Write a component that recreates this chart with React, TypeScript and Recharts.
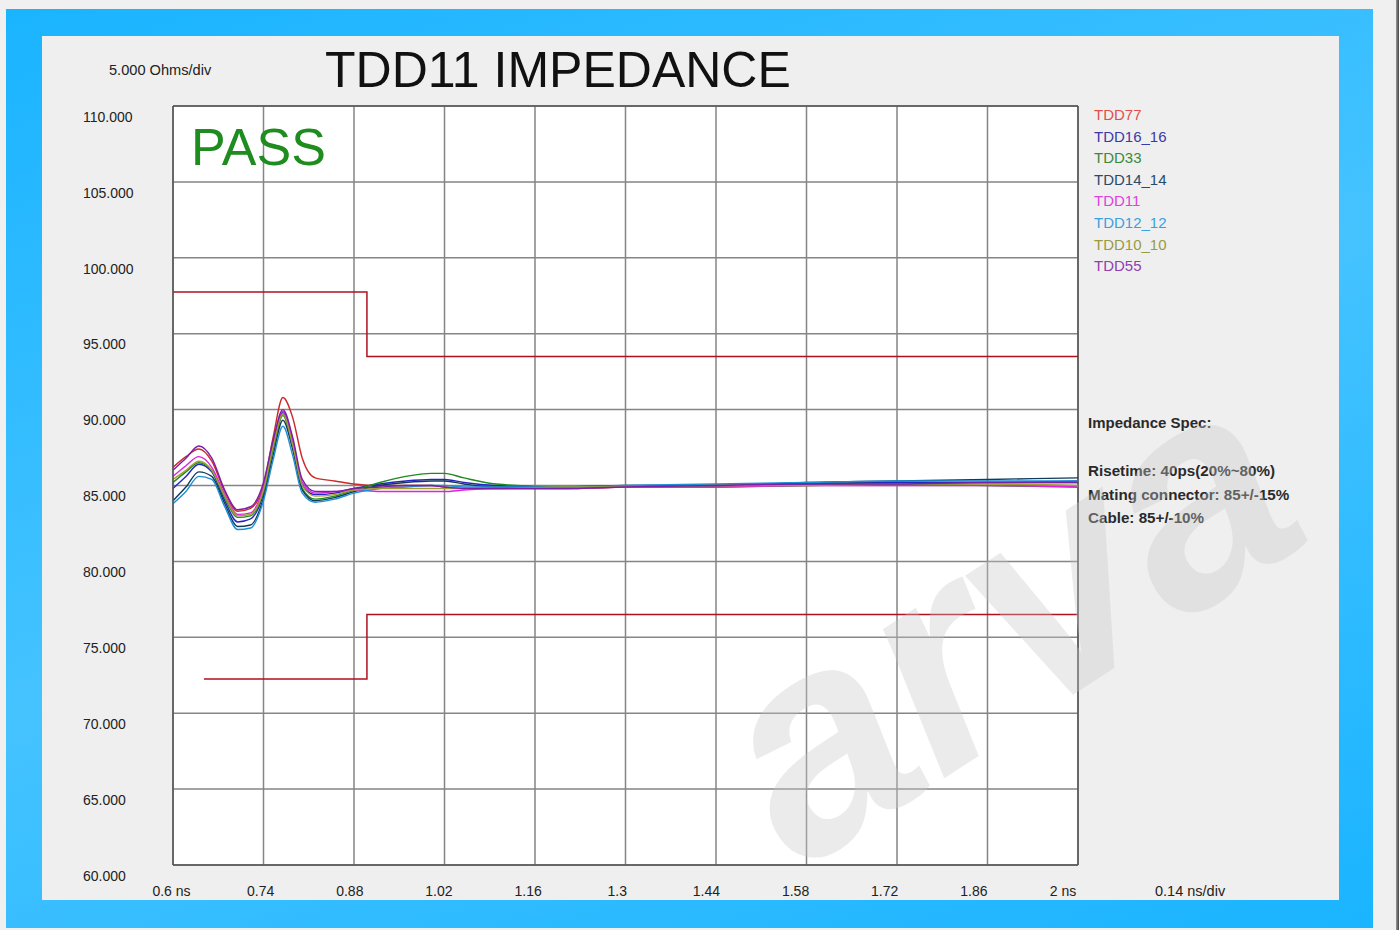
import { LineChart, Line, XAxis, YAxis, CartesianGrid, ReferenceLine } from "recharts";

// time axis (ns) shared by all traces
const times = [0.6, 0.62, 0.64, 0.66, 0.68, 0.7, 0.72, 0.74, 0.755, 0.77, 0.785, 0.8, 0.82, 0.85, 0.88, 0.92, 0.96, 1.0, 1.02, 1.05, 1.1, 1.2, 1.3, 1.44, 1.58, 1.72, 1.86, 2.0];

// impedance traces (ohms)
const tdd77 = [86.2, 86.9, 87.4, 86.6, 84.6, 83.3, 83.5, 85.0, 88.2, 90.8, 89.5, 86.8, 85.5, 85.3, 85.1, 85.0, 85.0, 85.0, 84.9, 84.8, 84.8, 84.8, 84.9, 85.0, 85.1, 85.2, 85.2, 85.2];
const tdd16_16 = [84.8, 85.6, 86.4, 85.9, 84.0, 82.6, 82.8, 84.5, 87.6, 89.8, 87.8, 85.0, 84.4, 84.5, 84.8, 85.1, 85.3, 85.4, 85.4, 85.2, 85.0, 84.9, 84.9, 85.0, 85.1, 85.2, 85.2, 85.3];
const tdd33 = [85.2, 85.9, 86.5, 86.0, 84.2, 82.9, 83.0, 84.6, 87.4, 89.6, 87.6, 84.8, 84.1, 84.3, 84.7, 85.2, 85.6, 85.8, 85.8, 85.5, 85.1, 84.9, 84.9, 84.9, 85.0, 85.1, 85.0, 84.9];
const tdd14_14 = [84.0, 84.9, 85.9, 85.6, 83.8, 82.3, 82.4, 84.2, 87.0, 89.3, 87.4, 84.7, 84.0, 84.2, 84.6, 85.0, 85.2, 85.3, 85.3, 85.1, 84.9, 84.9, 85.0, 85.0, 85.2, 85.3, 85.4, 85.5];
const tdd11 = [85.6, 86.3, 86.9, 86.2, 84.4, 83.1, 83.2, 84.9, 87.8, 89.9, 88.0, 85.2, 84.5, 84.6, 84.7, 84.6, 84.6, 84.6, 84.6, 84.7, 84.8, 84.8, 84.9, 84.9, 85.0, 85.0, 85.0, 84.9];
const tdd12_12 = [83.8, 84.6, 85.6, 85.4, 83.6, 82.1, 82.2, 84.0, 86.7, 88.9, 87.0, 84.5, 83.9, 84.1, 84.5, 84.8, 84.9, 85.0, 85.0, 84.9, 84.9, 84.9, 85.0, 85.1, 85.2, 85.3, 85.3, 85.3];
const tdd10_10 = [85.4, 86.0, 86.6, 86.0, 84.3, 83.0, 83.1, 84.7, 87.6, 89.7, 87.7, 85.0, 84.3, 84.4, 84.7, 84.8, 84.8, 84.8, 84.8, 84.8, 84.8, 84.9, 84.9, 85.0, 85.0, 85.1, 85.1, 85.0];
const tdd55 = [86.0, 86.8, 87.6, 86.8, 84.7, 83.4, 83.6, 85.2, 88.0, 90.0, 88.2, 85.4, 84.6, 84.6, 84.8, 84.9, 85.0, 85.0, 84.9, 84.8, 84.8, 84.8, 84.9, 85.0, 85.1, 85.1, 85.2, 85.2];

const seriesNames = ["TDD77", "TDD16_16", "TDD33", "TDD14_14", "TDD11", "TDD12_12", "TDD10_10", "TDD55"];
const seriesValues = [tdd77, tdd16_16, tdd33, tdd14_14, tdd11, tdd12_12, tdd10_10, tdd55];
const lineColors = ["#cc2a2a", "#2424c0", "#1f8a1f", "#123a5c", "#e020e0", "#1c8fd6", "#a0a030", "#7a1fa8"];
const legendColors = ["#e0504a", "#3a3aa8", "#3a8a3a", "#2a4a6a", "#e040e0", "#3aa0e0", "#9a9a40", "#9040b0"];

// spec limits
const upperLimitTimes = [0.6, 0.9, 0.9, 2.0];
const upperLimitValues = [97.75, 97.75, 93.5, 93.5];
const lowerLimitTimes = [0.648, 0.9, 0.9, 2.0];
const lowerLimitValues = [72.25, 72.25, 76.5, 76.5];

const yTicks = [60, 65, 70, 75, 80, 85, 90, 95, 100, 105, 110];
const xTicks = [0.6, 0.74, 0.88, 1.02, 1.16, 1.3, 1.44, 1.58, 1.72, 1.86, 2.0];
const xTickLabels = ["0.6 ns", "0.74", "0.88", "1.02", "1.16", "1.3", "1.44", "1.58", "1.72", "1.86", "2 ns"];

const specLines = ["Risetime: 40ps(20%~80%)", "Mating connector: 85+/-15%", "Cable: 85+/-10%"];

const data = times.map((t, i) => {
  const row: Record<string, number> = { t };
  seriesNames.forEach((n, k) => (row[n] = seriesValues[k][i]));
  return row;
});
const upperLimit = upperLimitTimes.map((t, i) => ({ t, v: upperLimitValues[i] }));
const lowerLimit = lowerLimitTimes.map((t, i) => ({ t, v: lowerLimitValues[i] }));

const FONT = "'Liberation Sans', Arial, sans-serif";

const YTick = (props: any) => {
  const { y, payload } = props;
  return (
    <text x={83} y={y + 12} dominantBaseline="middle" fontSize={14} fill="#222" fontFamily={FONT}>
      {Number(payload.value).toFixed(3)}
    </text>
  );
};

const XTick = (props: any) => {
  const { x, payload, index } = props;
  return (
    <text x={x - 1.5 - index * 1.35} y={896} textAnchor="middle" fontSize={14} fill="#222" fontFamily={FONT}>
      {xTickLabels[index] ?? payload.value}
    </text>
  );
};

export default function App() {
  return (
    <div style={{ position: "absolute", left: 0, top: 0, width: 1399, height: 930, background: "#f0f0f0", overflow: "hidden", fontFamily: FONT }}>
      <div style={{ position: "absolute", left: 6, top: 9, width: 1367, height: 919, background: "linear-gradient(160deg, #1ab4ff 0%, #45c3ff 50%, #1ab4ff 100%)" }} />
      <div style={{ position: "absolute", left: 42, top: 36, width: 1297, height: 864, background: "#efefef" }} />
      <div style={{ position: "absolute", left: 1396, top: 0, width: 3, height: 930, background: "linear-gradient(90deg, #999, #444)" }} />

      <div style={{ position: "absolute", left: 0, top: 0 }}>
        <LineChart width={1399} height={930} data={data} margin={{ top: 106, right: 321, bottom: 25, left: 73 }}>
          <CartesianGrid fill="#ffffff" stroke="#858585" strokeWidth={1.5} horizontalValues={yTicks} verticalValues={xTicks} />
          <XAxis dataKey="t" type="number" domain={[0.6, 2.0]} ticks={xTicks} height={40} tick={<XTick />} tickLine={false} axisLine={{ stroke: "#555", strokeWidth: 1.5 }} allowDataOverflow />
          <YAxis type="number" domain={[60, 110]} ticks={yTicks} width={100} tick={<YTick />} tickLine={false} axisLine={{ stroke: "#555", strokeWidth: 1.5 }} allowDataOverflow />
          <ReferenceLine y={110} stroke="#555" strokeWidth={1.5} />
          <ReferenceLine x={2.0} stroke="#555" strokeWidth={1.5} />
          <Line data={upperLimit} dataKey="v" type="linear" stroke="#b01020" strokeWidth={1.5} dot={false} isAnimationActive={false} />
          <Line data={lowerLimit} dataKey="v" type="linear" stroke="#b01020" strokeWidth={1.5} dot={false} isAnimationActive={false} />
          {seriesNames.map((n, k) => (
            <Line key={n} dataKey={n} type="monotone" stroke={lineColors[k]} strokeWidth={1.4} dot={false} isAnimationActive={false} />
          ))}
        </LineChart>
      </div>

      <div style={{ position: "absolute", left: 325, top: 39, fontSize: 50, color: "#111", whiteSpace: "nowrap", lineHeight: "62px" }}>TDD11 IMPEDANCE</div>
      <div style={{ position: "absolute", left: 109, top: 61, fontSize: 14.6, color: "#222", whiteSpace: "nowrap", lineHeight: "18px" }}>5.000 Ohms/div</div>
      <div style={{ position: "absolute", left: 191, top: 115, fontSize: 52, color: "#1e8c1e", whiteSpace: "nowrap", lineHeight: "64px" }}>PASS</div>
      <div style={{ position: "absolute", left: 1155, top: 882, fontSize: 14.5, color: "#222", whiteSpace: "nowrap", lineHeight: "18px" }}>0.14 ns/div</div>

      <div style={{ position: "absolute", left: 1094, top: 104 }}>
        {seriesNames.map((n, k) => (
          <div key={n} style={{ fontSize: 15, lineHeight: "21.6px", color: legendColors[k], whiteSpace: "nowrap" }}>{n}</div>
        ))}
      </div>

      <div style={{ position: "absolute", left: 1088, top: 413, fontSize: 15, fontWeight: "bold", color: "#2a2a2a", whiteSpace: "nowrap", lineHeight: "20px" }}>Impedance Spec:</div>
      <div style={{ position: "absolute", left: 1088, top: 459 }}>
        {specLines.map((s) => (
          <div key={s} style={{ fontSize: 15.2, fontWeight: "bold", color: "#2a2a2a", whiteSpace: "nowrap", lineHeight: "23.5px" }}>{s}</div>
        ))}
      </div>

      <svg width={1399} height={930} style={{ position: "absolute", left: 0, top: 0, pointerEvents: "none" }}>
        <text x={800} y={872} fontSize={300} fontWeight="bold" fontStyle="italic" fill="#c8c8c8" opacity={0.35} fontFamily={FONT} transform="rotate(-33 800 872)">
          arva
        </text>
      </svg>
    </div>
  );
}
